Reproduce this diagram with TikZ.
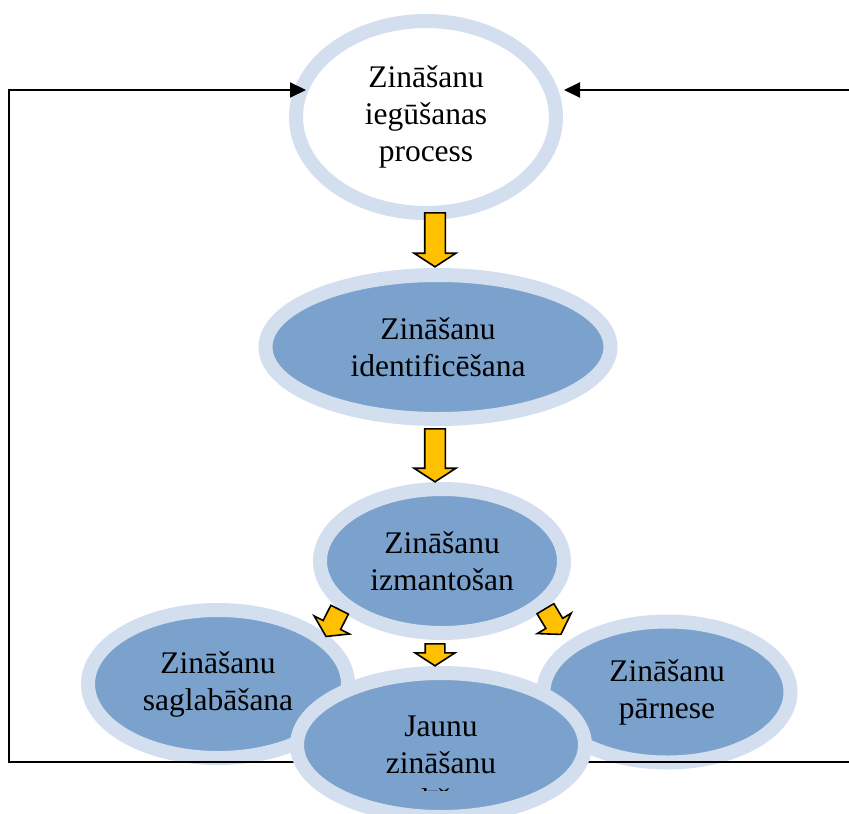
\documentclass[tikz,border=0pt]{standalone}
\usepackage{fontspec}
\setmainfont{Liberation Serif}
\usetikzlibrary{shapes.geometric,shapes.arrows,arrows.meta,calc}
\definecolor{ringblue}{RGB}{211,222,238}
\definecolor{midblue}{RGB}{123,162,204}
\definecolor{gold}{RGB}{255,192,0}
\tikzset{
  blob/.style={ellipse,draw=ringblue,line width=14pt,fill=midblue,inner sep=0pt,
    align=center,font=\fontsize{31.5}{37}\selectfont},
  fatarrow/.style={single arrow,draw=black,line width=1.6pt,fill=gold,inner xsep=0pt,
    inner ysep=9.5pt,single arrow head extend=10.5pt,single arrow tip angle=114,anchor=tail},
  loopline/.style={line width=2pt,-{Triangle[length=16pt,width=15pt]}}
}
\begin{document}
\begin{tikzpicture}[x=1pt,y=1pt]
\useasboundingbox (0,0) rectangle (849,-814);
% ellipses
\node[blob,fill=white,minimum width=260pt,minimum height=192pt] (top) at (426,-117) {Zināšanu\\iegūšanas\\process};
\node[blob,minimum width=345pt,minimum height=144pt] (ident) at (438,-347) {Zināšanu\\identificēšana};
\node[blob,minimum width=244pt,minimum height=144pt] (izmant) at (442,-561) {Zināšanu\\izmantošan};
\node[blob,minimum width=260pt,minimum height=148pt] (saglab) at (218,-684) {Zināšanu\\saglabāšana};
\node[blob,minimum width=247pt,minimum height=141pt] (parnese) at (667,-692) {Zināšanu\\pārnese};
% feedback loop
\coordinate (loopbl) at (300,-762);
\coordinate (loopcl) at (9,-762);
\coordinate (loopbr) at (588,-762);
\coordinate (loopcr) at (860,-762);
\coordinate (tipl) at ($(top.west)+(17,27)$);
\coordinate (tipr) at ($(top.east)+(1,27)$);
\draw[loopline] (loopbl) -- (loopcl) |- (tipl);
\draw[loopline] (loopbr) -- (loopcr) |- (tipr);
\node[blob,minimum width=288pt,minimum height=144pt] (jaunu) at (441,-745) {};
\begin{scope}
\clip (290,-667) rectangle (600,-790);
\node[align=center,font=\fontsize{31.5}{37}\selectfont] (jaunutxt) at (441,-763) {Jaunu\\zināšanu\\radīšana};
\end{scope}
% arrows
\node[fatarrow,rotate=-90,minimum height=54pt] (arr1) at ($(top.south)+(9,8)$) {};
\node[fatarrow,rotate=-90,minimum height=53pt] (arr2) at ($(ident.south)+(-3,-2)$) {};
\node[fatarrow,rotate=-90,minimum height=22pt,inner ysep=9pt,single arrow head extend=10pt] (arr3) at ($(izmant.south)+(-7,-3)$) {};
\node[fatarrow,rotate=-117,minimum height=30pt,inner ysep=9pt,single arrow head extend=10pt] (arr4) at (340,-609) {};
\node[fatarrow,rotate=-59,minimum height=30pt,inner ysep=9pt,single arrow head extend=10pt] (arr5) at (545,-608) {};
\end{tikzpicture}
\end{document}
